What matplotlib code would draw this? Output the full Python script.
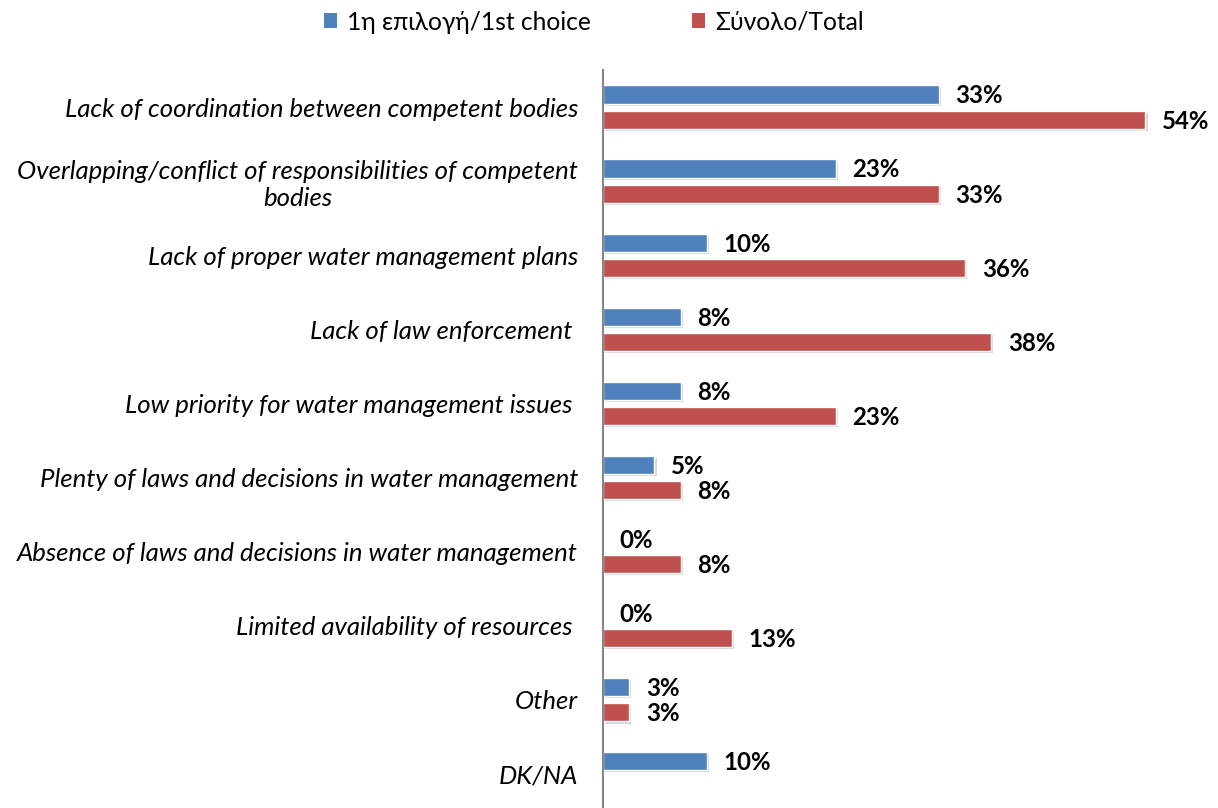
import numpy as np
import matplotlib
matplotlib.use("Agg")
import matplotlib.pyplot as plt
from matplotlib.patches import Patch
import matplotlib.patheffects as pe

categories = [
    "Lack of coordination between competent bodies",
    "Overlapping/conflict of responsibilities of competent\nbodies",
    "Lack of proper water management plans",
    "Lack of law enforcement ",
    "Low priority for water management issues ",
    "Plenty of laws and decisions in water management",
    "Absence of laws and decisions in water management",
    "Limited availability of resources ",
    "Other",
    "DK/NA",
]
first_choice = [33.3, 23.1, 10.3, 7.7, 7.7, 5.1, 0.0, 0.0, 2.6, 10.3]
total = [53.8, 33.3, 35.9, 38.5, 23.1, 7.7, 7.7, 12.8, 2.6, np.nan]
series_names = ["1η επιλογή/1st choice", "Σύνολο/Total"]
colors = ["#4F81BD", "#C0504D"]

plt.rcParams['font.family'] = ['Lato', 'DejaVu Sans']


def plot_chart():
    """Grouped horizontal bars, 1st choice vs total."""
    fig = plt.figure(figsize=(12.18, 8.08), dpi=100)
    ax = fig.add_axes([603 / 1218, 0, 605 / 1218, 738 / 808])

    y = np.arange(len(categories))
    h = 0.245
    off = 0.17
    shadow = [pe.SimplePatchShadow(offset=(1.5, -1.5), shadow_rgbFace="#999999", alpha=0.4),
              pe.Normal()]

    for vals, dy, col in [(first_choice, -off, colors[0]), (total, off, colors[1])]:
        for yi, v in zip(y, vals):
            if np.isnan(v):
                continue
            if v > 0:
                bar = ax.barh(yi + dy, v, height=h, color=col,
                              edgecolor="white", linewidth=1.0)
                for p in bar.patches:
                    p.set_path_effects(shadow)
            ax.annotate(f"{v:.0f}%", (v, yi + dy), xytext=(12, -1),
                        textcoords="offset points", va="center", ha="left",
                        fontsize=17.3, fontweight="bold")

    ax.set_xlim(0, 60)
    ax.set_ylim(9.46, -0.5)
    ax.set_yticks(y)
    ax.set_yticklabels(categories, fontsize=18.5, style="italic",
                       multialignment="center")
    ax.tick_params(axis="y", length=0, pad=18)
    ax.set_xticks([])
    for s in ["top", "right", "bottom"]:
        ax.spines[s].set_visible(False)
    ax.spines["left"].set_color("#868686")
    ax.spines["left"].set_linewidth(1.5)

    handles = [Patch(facecolor=c, edgecolor="none") for c in colors]
    fig.legend(handles, series_names, loc="center", bbox_to_anchor=(594 / 1218, 1 - 22 / 808),
               ncol=2, frameon=False, fontsize=17.7, handlelength=0.55,
               handleheight=0.55, handletextpad=0.4, columnspacing=4.1)

    fig.savefig("out.png", dpi=100)


def main():
    plot_chart()


if __name__ == "__main__":
    main()
